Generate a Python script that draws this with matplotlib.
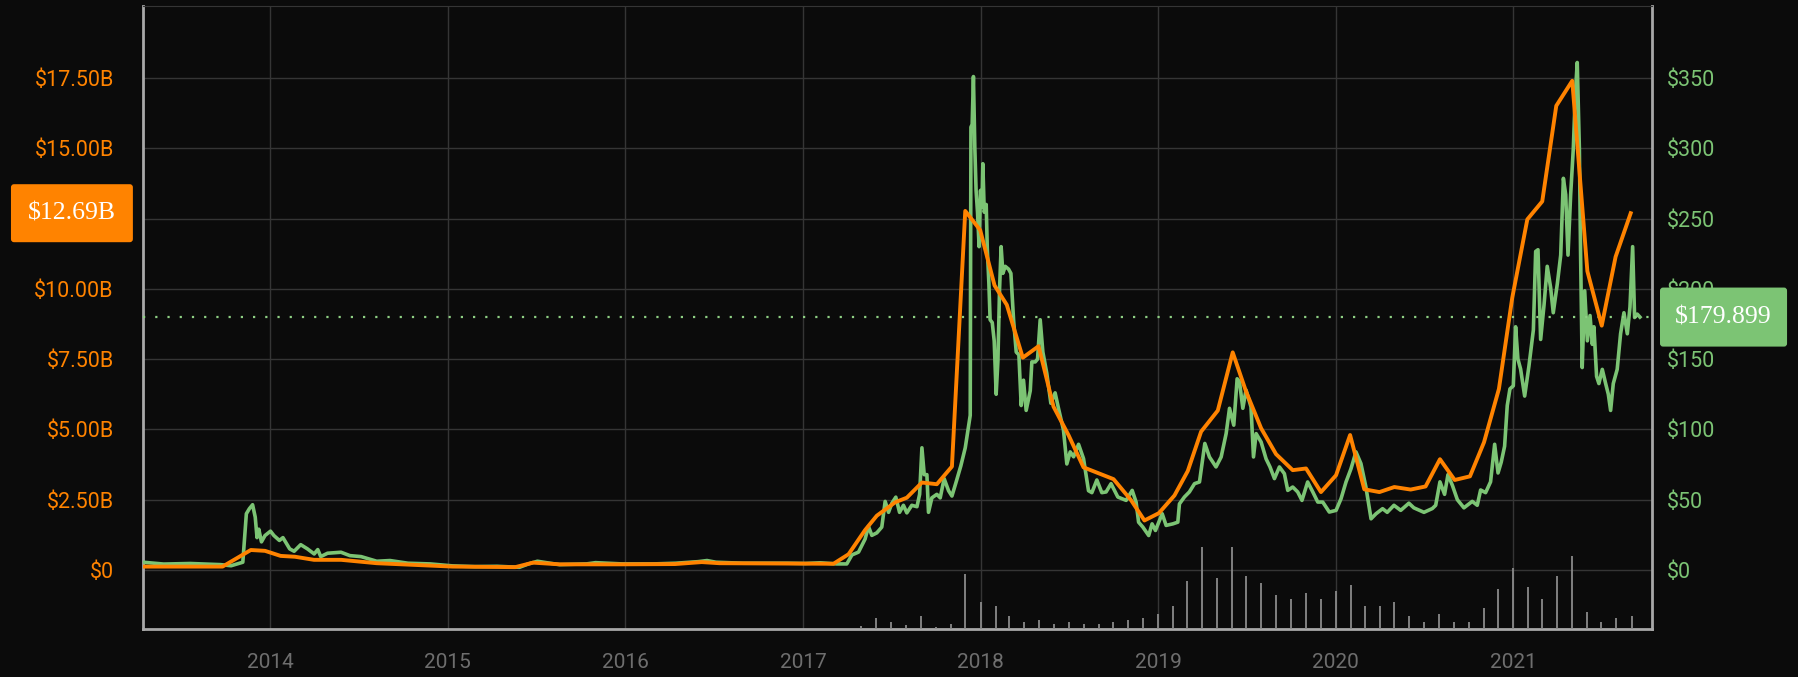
import numpy as np
import pandas as pd
import matplotlib
matplotlib.use("Agg")
import matplotlib.pyplot as plt
from matplotlib.patches import FancyBboxPatch
import matplotlib.transforms as mtransforms

# price in USD (right axis), x given as decimal year
price_year = [2013.285, 2013.40, 2013.55, 2013.72, 2013.78, 2013.846, 2013.866, 2013.883, 2013.901,
              2013.916, 2013.926, 2013.936, 2013.951, 2013.971, 2014.002, 2014.021, 2014.052,
              2014.072, 2014.110, 2014.135, 2014.172, 2014.210, 2014.248, 2014.268, 2014.285,
              2014.323, 2014.399, 2014.449, 2014.512, 2014.550, 2014.600, 2014.675, 2014.776,
              2014.901, 2015.027, 2015.153, 2015.278, 2015.404, 2015.454, 2015.505, 2015.555,
              2015.630, 2015.781, 2015.832, 2015.982, 2016.158, 2016.284, 2016.409, 2016.460,
              2016.510, 2016.661, 2016.912, 2017.013, 2017.097, 2017.19, 2017.247, 2017.276,
              2017.313, 2017.35, 2017.369, 2017.388, 2017.416, 2017.444, 2017.463, 2017.482,
              2017.501, 2017.523, 2017.544, 2017.566, 2017.585, 2017.613, 2017.642, 2017.657,
              2017.67, 2017.683, 2017.698, 2017.707, 2017.726, 2017.754, 2017.773, 2017.795,
              2017.82, 2017.839, 2017.863, 2017.889, 2017.914, 2017.932, 2017.942, 2017.946,
              2017.953, 2017.96, 2017.968, 2017.975, 2017.983, 2017.992, 2018.0, 2018.008,
              2018.013, 2018.021, 2018.032, 2018.038, 2018.047, 2018.054, 2018.066, 2018.077,
              2018.088, 2018.098, 2018.107, 2018.116, 2018.126, 2018.139, 2018.158, 2018.171,
              2018.186, 2018.201, 2018.216, 2018.229, 2018.242, 2018.257, 2018.28, 2018.289,
              2018.308, 2018.321, 2018.336, 2018.351, 2018.373, 2018.396, 2018.42, 2018.439,
              2018.467, 2018.486, 2018.505, 2018.524, 2018.552, 2018.58, 2018.608, 2018.627,
              2018.655, 2018.683, 2018.707, 2018.735, 2018.773, 2018.82, 2018.854, 2018.876,
              2018.89, 2018.914, 2018.947, 2018.966, 2018.985, 2019.023, 2019.045, 2019.083,
              2019.111, 2019.12, 2019.148, 2019.176, 2019.205, 2019.233, 2019.263, 2019.289,
              2019.326, 2019.355, 2019.383, 2019.402, 2019.426, 2019.445, 2019.458, 2019.477,
              2019.495, 2019.523, 2019.537, 2019.552, 2019.58, 2019.608, 2019.63, 2019.655,
              2019.683, 2019.711, 2019.73, 2019.758, 2019.786, 2019.81, 2019.842, 2019.871,
              2019.899, 2019.927, 2019.964, 2020.002, 2020.03, 2020.058, 2020.086, 2020.114,
              2020.142, 2020.17, 2020.199, 2020.227, 2020.264, 2020.29, 2020.328, 2020.366,
              2020.412, 2020.44, 2020.497, 2020.544, 2020.563, 2020.587, 2020.613, 2020.632,
              2020.657, 2020.685, 2020.722, 2020.769, 2020.797, 2020.816, 2020.844, 2020.872,
              2020.895, 2020.914, 2020.932, 2020.951, 2020.966, 2020.981, 2021.0, 2021.013,
              2021.026, 2021.041, 2021.064, 2021.088, 2021.113, 2021.126, 2021.139, 2021.154,
              2021.173, 2021.191, 2021.21, 2021.225, 2021.248, 2021.267, 2021.282, 2021.295,
              2021.308, 2021.323, 2021.338, 2021.349, 2021.36, 2021.372, 2021.379, 2021.388,
              2021.402, 2021.417, 2021.432, 2021.445, 2021.454, 2021.469, 2021.482, 2021.501,
              2021.52, 2021.535, 2021.548, 2021.563, 2021.585, 2021.604, 2021.623, 2021.642,
              2021.657, 2021.672, 2021.683, 2021.698, 2021.713]
price_usd = [5.5, 4.2, 4.6, 3.8, 3.0, 5.5, 40, 43.6, 46.4,
             37.6, 23, 29, 20, 24.5, 27.6, 24.5, 21,
             23, 15, 13.3, 18, 15, 11.4, 14.5, 9.5,
             11.9, 12.6, 10.2, 9.5, 8.1, 6.2, 6.7, 4.8,
             4.3, 2.9, 2.4, 2.6, 1.9, 4.3, 6.2, 5.2,
             3.8, 4.3, 5.2, 4.3, 4.3, 4.8, 5.9, 6.7,
             5.5, 4.8, 4.8, 4.6, 5.1, 4.3, 4.3, 10.7,
             12.7, 22, 31, 24.6, 26.4, 30.5, 48.8, 41,
             47.5, 51.8, 41, 46, 40.6, 46, 45, 53.8,
             86.9, 67.8, 67.8, 41, 51.3, 53.8, 51.3, 65,
             56.4, 52.6, 62.7, 74, 86.9, 102, 110, 315,
             317, 351, 300, 270, 254.5, 230, 270, 258,
             289, 254.5, 260, 229, 204, 178, 176, 163,
             125, 149, 199, 230, 211, 216, 214, 211,
             178, 155, 153, 117, 135, 113.5, 127.5, 148,
             148, 150, 178, 155, 140, 118.6, 126, 115,
             99.6, 75.4, 84, 80.5, 89.4, 79.2, 56.4, 55,
             64, 55, 55.5, 61.4, 51.9, 49.5, 56.6, 48.3,
             34, 30.5, 24.5, 32.8, 28.1, 40, 31.7, 32.8,
             34, 47, 51.9, 55.5, 61.4, 62.6, 90, 80.4,
             73.3, 80.4, 97, 115, 103, 136, 134, 115,
             128, 116, 80.4, 97, 91, 79, 73.3, 65,
             73.3, 68.5, 56.6, 59, 55.5, 49.5, 62.6, 55.5,
             48.3, 48.3, 41.2, 42.4, 50.7, 62.6, 72, 84,
             75.7, 59, 36.4, 40, 43.6, 41, 46, 42.4,
             47.5, 44.2, 41, 43.7, 46, 62.7, 53.8, 67.8,
             60.2, 50, 44.2, 48.8, 46, 56.9, 55, 62.7,
             89.4, 69, 76.7, 88, 117, 128.8, 131, 173,
             150, 143, 123.7, 145, 170.7, 226.6, 227.8, 164,
             188.5, 216, 201, 183, 203.7, 224, 278.6, 267,
             224, 267, 300, 338, 361, 300, 224, 144,
             198.6, 163, 181, 160.5, 173, 137.7, 132.6, 142.7,
             132.6, 125, 113.5, 132.6, 142.7, 168, 183, 168,
             187, 230, 179.6, 182, 179.899]

# market cap in billions USD (left axis), roughly monthly
cap_year = [2013.285, 2013.732, 2013.891, 2013.971, 2014.059, 2014.14, 2014.247, 2014.40, 2014.60,
            2015.027, 2015.38, 2015.48, 2015.63, 2015.98, 2016.28, 2016.43, 2016.53, 2017.172,
            2017.257, 2017.35, 2017.416, 2017.52, 2017.585, 2017.67, 2017.754, 2017.839,
            2017.914, 2017.998, 2018.079, 2018.148, 2018.238, 2018.327, 2018.411, 2018.496,
            2018.58, 2018.749, 2018.848, 2018.923, 2019.004, 2019.092, 2019.167, 2019.242,
            2019.336, 2019.42, 2019.495, 2019.58, 2019.664, 2019.758, 2019.833, 2019.917,
            2020.002, 2020.081, 2020.161, 2020.246, 2020.33, 2020.422, 2020.506, 2020.587,
            2020.67, 2020.756, 2020.835, 2020.919, 2020.994, 2021.079, 2021.163, 2021.242,
            2021.332, 2021.417, 2021.498, 2021.576, 2021.661]
cap_bn = [0.12, 0.12, 0.71, 0.68, 0.50, 0.47, 0.36, 0.36, 0.24,
          0.12, 0.10, 0.26, 0.20, 0.20, 0.21, 0.28, 0.24, 0.22,
          0.56, 1.42, 1.93, 2.41, 2.57, 3.11, 3.05, 3.68,
          12.77, 12.09, 10.12, 9.43, 7.55, 7.96, 5.81, 4.79,
          3.65, 3.23, 2.48, 1.76, 2.02, 2.65, 3.52, 4.92,
          5.67, 7.74, 6.35, 5.04, 4.12, 3.55, 3.61, 2.77,
          3.37, 4.80, 2.87, 2.77, 2.95, 2.86, 2.97, 3.94,
          3.20, 3.33, 4.54, 6.44, 9.68, 12.47, 13.11, 16.51,
          17.40, 10.63, 8.69, 11.14, 12.69]

# monthly volume bars (arbitrary units), May 2017 - Sep 2021
vol_months = pd.date_range("2017-05-01", "2021-09-01", freq="MS")
vol = [10, 35, 23, 11, 41, 5, 17, 173, 83, 71, 41, 23, 29, 17, 23, 17, 17, 23, 29, 35,
       47, 71, 149, 257, 161, 257, 167, 143, 107, 95, 113, 95, 119, 137, 71, 71, 83, 41,
       23, 47, 23, 23, 65, 125, 191, 131, 95, 167, 227, 53, 23, 35, 41]

last_price = 179.899
last_cap = 12.69

cap_ticks = np.arange(0, 17.6, 2.5)
price_ticks = np.arange(0, 351, 50)
years = list(range(2014, 2022))

BG = "#0b0b0b"
ORANGE = "#ff8300"
GREEN = "#7cc474"
GRID = "#353535"

def dec_year(ts):
    start = pd.Timestamp(year=ts.year, month=1, day=1)
    end = pd.Timestamp(year=ts.year + 1, month=1, day=1)
    return ts.year + (ts - start) / (end - start)

def cap_label(v):
    # the $12.50B label sits under the current-value badge, so it is not shown
    if v == 0:
        return "$0"
    if abs(v - 12.5) < 1e-6:
        return ""
    return "$%.2fB" % v

vol_x = [dec_year(t) for t in vol_months]

fig = plt.figure(figsize=(17.99, 6.77), dpi=100, facecolor=BG)
ax = fig.add_axes([143 / 1799, 48 / 677, 1509 / 1799, 623 / 677])
ax.set_facecolor(BG)
ax3 = ax.twinx()   # volume
ax2 = ax.twinx()   # price
ax4 = ax.twinx()   # market cap on top

xlim = (2013.284, 2021.781)
cap_lim = (-2.10, 20.06)
ax.set_xlim(*xlim)
for a in (ax, ax4):
    a.set_ylim(*cap_lim)
ax2.set_ylim(cap_lim[0] * 20, cap_lim[1] * 20)
ax3.set_ylim(0, 1950)

# grid and spines on the base axes
ax.set_xticks(years)
ax.set_xticklabels([str(y) for y in years])
ax.set_yticks(cap_ticks)
ax.set_yticklabels([cap_label(v) for v in cap_ticks])
ax.grid(True, color=GRID, lw=1.0)
ax.tick_params(axis="y", length=0, pad=21, labelcolor=ORANGE, labelsize=15.5)
ax.tick_params(axis="x", length=0, pad=17, labelcolor="#6e6e6e", labelsize=15)
for lab in ax.get_xticklabels() + ax.get_yticklabels():
    lab.set_fontfamily("Roboto")
for side in ("left", "bottom", "right"):
    ax.spines[side].set_color("#a8a8a8")
    ax.spines[side].set_linewidth(2)
ax.spines["top"].set_color(GRID)

for a in (ax2, ax3, ax4):
    for s in a.spines.values():
        s.set_visible(False)
ax3.set_yticks([])
ax4.set_yticks([])

ax2.set_yticks(price_ticks)
ax2.set_yticklabels(["$%d" % v for v in price_ticks])
ax2.tick_params(axis="y", length=0, pad=11, labelcolor=GREEN, labelsize=15.5)
for lab in ax2.get_yticklabels():
    lab.set_fontfamily("Roboto")

# volume
ax3.vlines(vol_x, 0, vol, color="#8a8a8a", lw=1.3)

# price and market cap lines
ax2.plot(price_year, price_usd, color=GREEN, lw=2.6, solid_joinstyle="round")
ax2.axhline(last_price, color="#8fd184", lw=1.6, ls=(0, (1, 4.5)))
ax4.plot(cap_year, cap_bn, color=ORANGE, lw=2.8, solid_joinstyle="round")

# value badges
trans_l = mtransforms.blended_transform_factory(ax4.transAxes, ax4.transData)
h_cap = 58 / 623 * (cap_lim[1] - cap_lim[0])
badge_l = FancyBboxPatch((-0.0875, last_cap - h_cap / 2), 0.0808, h_cap,
                         boxstyle="round,pad=0,rounding_size=0.002", mutation_aspect=55,
                         transform=trans_l, facecolor=ORANGE, edgecolor="none",
                         clip_on=False, zorder=10)
ax4.add_patch(badge_l)
ax4.text(-0.0875 + 0.0404, last_cap, "$%.2fB" % last_cap, transform=trans_l,
         ha="center", va="center", color="white", fontsize=18.5,
         fontfamily="Liberation Serif", clip_on=False, zorder=11)

badge_r = FancyBboxPatch((1.0053, (last_price - 21) / 20), 0.0842, 42 / 20,
                         boxstyle="round,pad=0,rounding_size=0.002", mutation_aspect=55,
                         transform=trans_l, facecolor=GREEN, edgecolor="none",
                         clip_on=False, zorder=10)
ax4.add_patch(badge_r)
ax4.text(1.0053 + 0.0421, last_price / 20, "$%.3f" % last_price, transform=trans_l,
         ha="center", va="center", color="white", fontsize=18.5,
         fontfamily="Liberation Serif", clip_on=False, zorder=11)

fig.savefig("out.png", dpi=100, facecolor=BG)
